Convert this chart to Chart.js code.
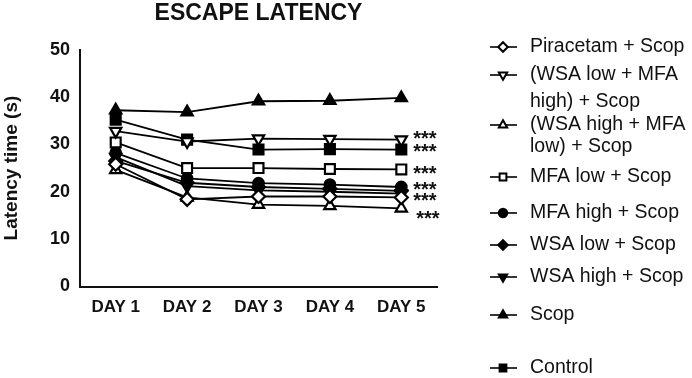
<!DOCTYPE html>
<html>
<head>
<meta charset="utf-8">
<script src="https://cdn.jsdelivr.net/npm/chart.js@4"></script>
<style>
  html, body { margin: 0; padding: 0; background: #fff; }
  #wrap { width: 692px; height: 378px; }
</style>
</head>
<body>
<div id="wrap"><canvas id="c" width="692" height="378"></canvas></div>
<script>
const days = ['DAY 1', 'DAY 2', 'DAY 3', 'DAY 4', 'DAY 5'];

const piracetam     = [25.8, 18.4, 19.0, 19.0, 18.8];
const wsaLowMfaHigh = [32.8, 30.6, 31.2, 31.1, 31.0];
const wsaHighMfaLow = [24.6, 18.8, 17.3, 17.0, 16.5];
const mfaLow        = [30.4, 25.0, 25.0, 24.8, 24.7];
const mfaHigh       = [28.2, 22.8, 21.8, 21.5, 21.0];
const wsaLow        = [26.5, 21.9, 21.0, 20.6, 20.2];
const wsaHigh       = [27.3, 21.2, 20.3, 20.0, 19.6];
const scop          = [37.2, 36.8, 39.1, 39.2, 39.8];
const control       = [35.2, 31.0, 28.9, 29.0, 28.9];

// significance marks shown right of DAY 5
const starValues = [31.7, 28.9, 24.3, 21.0, 18.6, 14.8];

const FONT = "'Liberation Sans', Arial, sans-serif";

function series(label, data, style, open, rotation) {
  let r = 6.5;
  if (style === 'circle') r = 5.3;
  if (style === 'rect') r = 7;
  return {
    label: label,
    data: data,
    borderColor: '#000',
    borderWidth: 1.8,
    pointStyle: style,
    pointRotation: rotation || 0,
    pointRadius: r,
    pointHoverRadius: r,
    pointBorderWidth: 2.2,
    pointBorderColor: '#000',
    pointBackgroundColor: open ? '#fff' : '#000',
    tension: 0,
    fill: false
  };
}

const datasets = [
  series('Piracetam + Scop', piracetam, 'rectRot', true),
  series('(WSA low + MFA high) + Scop', wsaLowMfaHigh, 'triangle', true, 180),
  series('(WSA high + MFA low) + Scop', wsaHighMfaLow, 'triangle', true),
  series('MFA low + Scop', mfaLow, 'rect', true),
  series('MFA high + Scop', mfaHigh, 'circle', false),
  series('WSA low + Scop', wsaLow, 'rectRot', false),
  series('WSA high + Scop', wsaHigh, 'triangle', false, 180),
  series('Scop', scop, 'triangle', false),
  series('Control', control, 'rect', false)
];

// legend rows: y of each text line (layout only)
const legendLayout = [[47], [75, 102], [125, 147], [177], [213], [245], [277], [315], [368]];
const legendWrap = [null, ['(WSA low + MFA', 'high) + Scop'], ['(WSA high + MFA', 'low) + Scop']];

const sideLegend = {
  id: 'sideLegend',
  afterDraw(chart) {
    const ctx = chart.ctx;
    ctx.save();
    ctx.font = '19.5px ' + FONT;
    ctx.textBaseline = 'middle';
    ctx.textAlign = 'left';
    chart.data.datasets.forEach((ds, i) => {
      const ys = legendLayout[i];
      const lines = legendWrap[i] || [ds.label];
      const my = ys[0];
      ctx.strokeStyle = '#000';
      ctx.lineWidth = 1.6;
      ctx.beginPath();
      ctx.moveTo(490, my);
      ctx.lineTo(517, my);
      ctx.stroke();
      ctx.fillStyle = ds.pointBackgroundColor;
      ctx.lineWidth = 2;
      Chart.helpers.drawPoint(ctx, {
        pointStyle: ds.pointStyle,
        rotation: ds.pointRotation,
        radius: ds.pointStyle === 'circle' ? 4.2 : 4.8,
        borderWidth: 2
      }, 503, my);
      ctx.fillStyle = '#111';
      lines.forEach((t, k) => ctx.fillText(t, 530, ys[k]));
    });
    ctx.restore();
  }
};

const stars = {
  id: 'stars',
  afterDatasetsDraw(chart) {
    const ctx = chart.ctx;
    const xs = chart.scales.x, ys = chart.scales.y;
    ctx.save();
    ctx.font = 'bold 20px ' + FONT;
    ctx.fillStyle = '#111';
    ctx.textAlign = 'left';
    ctx.textBaseline = 'middle';
    starValues.forEach((v, i) => {
      const x = xs.getPixelForValue(4) + 12 + (i === starValues.length - 1 ? 3 : 0);
      ctx.fillText('***', x, ys.getPixelForValue(v) + 3);
    });
    ctx.restore();
  }
};

new Chart(document.getElementById('c'), {
  type: 'line',
  data: { labels: days, datasets: datasets },
  plugins: [sideLegend, stars],
  options: {
    responsive: false,
    animation: false,
    layout: { padding: { left: 0, right: 255, top: 0, bottom: 0 } },
    plugins: {
      legend: { display: false },
      tooltip: { enabled: false },
      title: {
        display: true,
        text: 'ESCAPE LATENCY',
        fullSize: false,
        color: '#111',
        font: { family: FONT, size: 23, weight: 'bold' },
        padding: { top: 0, bottom: 22 }
      }
    },
    scales: {
      x: {
        offset: true,
        grid: { display: false, drawTicks: true, tickLength: 7, tickWidth: 2, tickColor: '#111' },
        border: { color: '#111', width: 2 },
        ticks: { color: '#111', padding: 4, font: { family: FONT, size: 17, weight: 'bold' } },
        afterFit(scale) { scale.height = 91.5; }
      },
      y: {
        min: 0,
        max: 50,
        grid: { display: false, drawTicks: true, tickLength: 7, tickWidth: 2, tickColor: '#111' },
        border: { color: '#111', width: 2 },
        ticks: { stepSize: 10, color: '#111', padding: 3, font: { family: FONT, size: 18, weight: 'bold' } },
        title: {
          display: true,
          text: 'Latency time (s)',
          color: '#111',
          font: { family: FONT, size: 19, weight: 'bold' },
          padding: { top: 0, bottom: 4 }
        },
        afterFit(scale) { scale.width = 80; }
      }
    }
  }
});
</script>
</body>
</html>
